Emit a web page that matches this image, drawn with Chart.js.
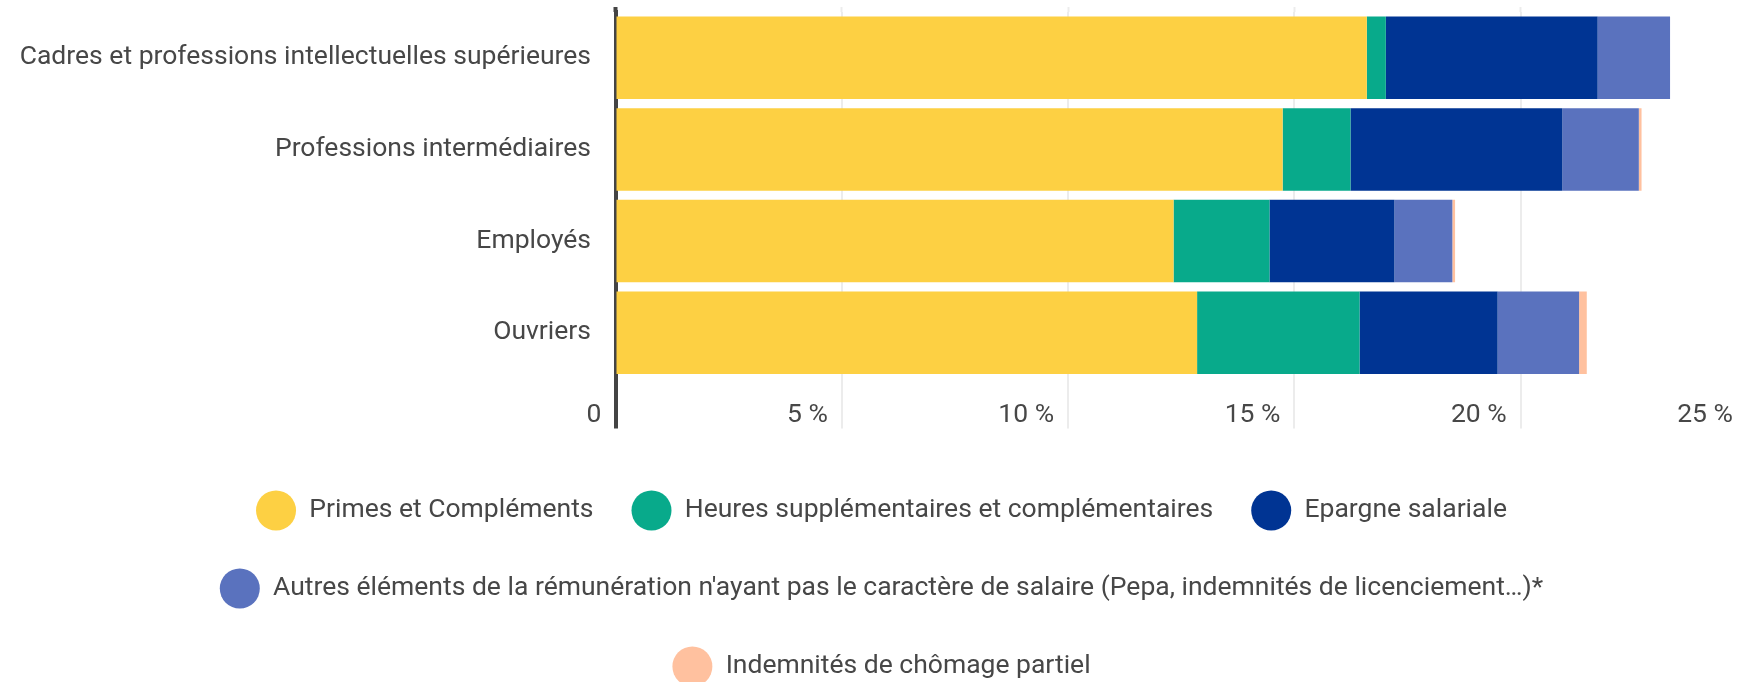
<!DOCTYPE html>
<html lang="fr">
<head>
<meta charset="utf-8">
<title>Compléments de rémunération par catégorie socioprofessionnelle</title>
<script src="https://cdn.jsdelivr.net/npm/chart.js@4.4.1/dist/chart.umd.min.js"></script>
<style>
  html, body { margin: 0; padding: 0; background: #fff; overflow: hidden; }
  /* un peu plus large que la fenêtre : le 25 % tombe au bord droit */
  #wrap { position: relative; width: 1747px; height: 682px; }
</style>
</head>
<body>
<div id="wrap"><canvas id="barChart"></canvas></div>
<script>
// catégories (axe vertical)
const categories = [
  'Cadres et professions intellectuelles supérieures',
  'Professions intermédiaires',
  'Employés',
  'Ouvriers'
];

// part dans la rémunération, en %
const primes = [16.6, 14.74, 12.33, 12.85];
const heuresSup = [0.42, 1.5, 2.12, 3.59];
const epargne = [4.68, 4.68, 2.76, 3.05];
const autres = [1.6, 1.69, 1.28, 1.8];
const chomagePartiel = [0, 0.06, 0.06, 0.17];

const xTickLabels = ['0', '5 %', '10 %', '15 %', '20 %', '25 %'];

const textColor = '#474747';
const gridColor = '#ececec';
const axisColor = '#444';
const fontSize = 26.5;
const padLeft = 16; // pas plus : les libellés de l'axe y sont coupés au bord gauche de l'axe

document.addEventListener("DOMContentLoaded", function () {
  const ctx = document.getElementById('barChart').getContext('2d');

  // le trait de l'axe 0 continue au-dessus et en dessous de la zone du graphique
  const tickColor = (c) => (c.tick && c.tick.value === 0 ? axisColor : gridColor);
  const tickWidth = (c) => (c.tick && c.tick.value === 0 ? 4 : 2);

  new Chart(ctx, {
    type: 'bar',
    data: {
      labels: categories,
      datasets: [
        { label: 'Primes et Compléments', data: primes, backgroundColor: '#fdd043' },
        { label: 'Heures supplémentaires et complémentaires', data: heuresSup, backgroundColor: '#08aa8b' },
        { label: 'Epargne salariale', data: epargne, backgroundColor: '#003493' },
        { label: "Autres éléments de la rémunération n'ayant pas le caractère de salaire (Pepa, indemnités de licenciement…)*", data: autres, backgroundColor: '#5a72be' },
        { label: 'Indemnités de chômage partiel', data: chomagePartiel, backgroundColor: '#ffc19f' }
      ]
    },
    options: {
      indexAxis: 'y',
      responsive: true,
      maintainAspectRatio: false,
      animation: false,
      datasets: {
        bar: { barPercentage: 0.9, categoryPercentage: 1.0, borderWidth: 0 }
      },
      layout: {
        padding: { top: 7, right: 0, bottom: -14.5, left: padLeft }
      },
      scales: {
        x: {
          stacked: true,
          min: 0,
          max: 25,
          ticks: {
            stepSize: 5,
            align: 'end',
            labelOffset: -14,
            padding: -29.4,
            color: textColor,
            font: { family: 'Roboto', size: fontSize },
            callback: (v, i) => xTickLabels[i]
          },
          grid: {
            color: gridColor,
            lineWidth: 2,
            tickLength: 50,
            tickColor: tickColor,
            tickWidth: tickWidth
          },
          border: { display: false },
          afterFit: (scale) => { scale.height = 74; }
        },
        xTop: {
          position: 'top',
          min: 0,
          max: 25,
          ticks: { stepSize: 5, display: false },
          grid: {
            drawOnChartArea: false,
            tickLength: 5,
            tickColor: tickColor,
            tickWidth: tickWidth
          },
          border: { display: false },
          afterFit: (scale) => { scale.height = 5; }
        },
        y: {
          stacked: true,
          z: 1,
          ticks: {
            padding: 0,
            color: textColor,
            font: { family: 'Roboto', size: fontSize, lineHeight: 0.9 }
          },
          grid: { display: false, drawTicks: true, tickLength: 24.5 },
          border: { display: true, color: axisColor, width: 4 },
          afterFit: (scale) => { scale.width = 615.5 - padLeft; }
        }
      },
      plugins: {
        tooltip: { enabled: false },
        legend: {
          position: 'bottom',
          labels: {
            color: textColor,
            font: { family: 'Roboto', size: fontSize },
            boxWidth: 40,
            boxHeight: 40,
            useBorderRadius: true,
            borderRadius: 20,
            padding: 38
          }
        }
      }
    }
  });
});
</script>
</body>
</html>
